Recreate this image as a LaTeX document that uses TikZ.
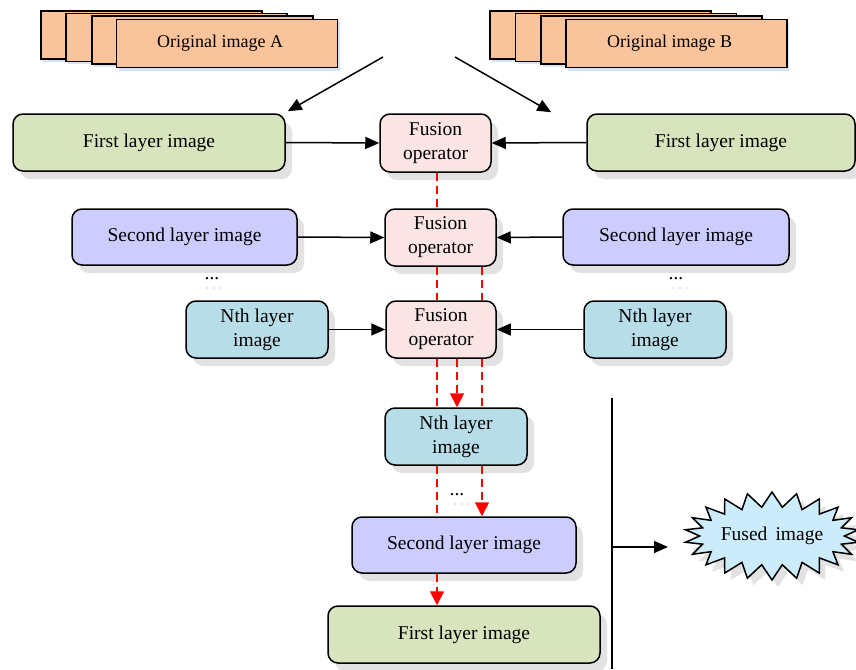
\documentclass[tikz,border=0pt]{standalone}
\usepackage{fontspec}
\setmainfont{Liberation Serif}
\usetikzlibrary{shadows,shapes.symbols,arrows.meta,calc}
\definecolor{cOrange}{HTML}{F9C49B}
\definecolor{cGreen}{HTML}{D7E4BD}
\definecolor{cLav}{HTML}{CCCCFF}
\definecolor{cTeal}{HTML}{B7DDE8}
\definecolor{cPink}{HTML}{FAE4E4}
\definecolor{cStar}{HTML}{CCEBFB}
\definecolor{cShadow}{HTML}{E2E2E2}
\definecolor{cBlueSh}{HTML}{D5E5F5}
\tikzset{
  base/.style={draw=black, line width=1.5pt, align=center, inner sep=2pt,
    font=\fontsize{19.5}{24}\selectfont},
  layerbox/.style={base, rounded corners=10pt,
    drop shadow={shadow xshift=7pt, shadow yshift=-8pt, fill=cShadow, opacity=1}},
  card/.style={draw=black, line width=1.5pt, fill=cOrange, minimum width=221pt, minimum height=48pt,
    font=\fontsize{18}{22}\selectfont,
    drop shadow={shadow xshift=2pt, shadow yshift=-3pt, fill=cBlueSh, opacity=1}},
  blackarrow/.style={line width=1.5pt, -{Triangle[length=14pt,width=12pt]}},
  redline/.style={draw=red, line width=1.6pt, dash pattern=on 8pt off 5pt},
  redarrow/.style={redline, -{Triangle[length=14pt,width=14pt]}},
  dotstext/.style={font=\fontsize{19.5}{24}\selectfont, inner sep=0pt},
  shadowdot/.style={fill=black!15},
}
\begin{document}
\begin{tikzpicture}[x=1pt,y=-1pt]
\useasboundingbox (0,0) rectangle (856,669);

% original image stacks
\node[card] (a1) at (151.5,35) {};
\node[card] (a2) at (176.5,37.5) {};
\node[card] (a3) at (202.5,40) {};
\node[card] (a4) at (227,43.5) {Original image A\hspace*{14pt}};
\node[card] (b1) at (600.5,35) {};
\node[card] (b2) at (626,37.5) {};
\node[card] (b3) at (651.5,40) {};
\node[card] (b4) at (676.5,43.5) {Original image B\hspace*{14pt}};

% row 1
\node[layerbox, fill=cGreen, minimum width=272pt, minimum height=57pt] (fA) at (149,142.5) {First layer image};
\node[layerbox, fill=cPink, minimum width=111pt, minimum height=58pt] (F1) at (435.5,143) {Fusion\\operator};
\node[layerbox, fill=cGreen, minimum width=268pt, minimum height=57pt] (fB) at (721,142.5) {First layer image};
% row 2
\node[layerbox, fill=cLav, minimum width=225pt, minimum height=56pt] (sA) at (184.5,237) {Second layer image};
\node[layerbox, fill=cPink, minimum width=111pt, minimum height=57pt] (F2) at (440.5,237.5) {Fusion\\operator};
\node[layerbox, fill=cLav, minimum width=226pt, minimum height=56pt] (sB) at (676,237) {Second layer image};
% row 3
\node[layerbox, fill=cTeal, minimum width=142pt, minimum height=57pt] (nA) at (257,329.5) {Nth layer\\image};
\node[layerbox, fill=cPink, minimum width=110pt, minimum height=57pt] (F3) at (441,329.5) {Fusion\\operator};
\node[layerbox, fill=cTeal, minimum width=142pt, minimum height=57pt] (nB) at (655,329.5) {Nth layer\\image};
% bottom column
\node[layerbox, fill=cTeal, minimum width=142pt, minimum height=57pt] (nC) at (456,436.5) {Nth layer\\image};
\node[layerbox, fill=cLav, minimum width=224pt, minimum height=56pt] (sC) at (464,545) {Second layer image};
\node[layerbox, fill=cGreen, minimum width=272pt, minimum height=57pt] (fC) at (464,634.5) {First layer image};

% dots (with faint shadow dots)
\foreach \cx/\cy in {214/288, 680/288, 462/504} {
  \foreach \k in {-6.5,0,6.5} \fill[shadowdot] (\cx+\k,\cy) circle (1.1pt);
}
\node[dotstext] (d1) at (212,279) {...};
\node[dotstext] (d2) at (676,279) {...};
\node[dotstext] (d3) at (457,495) {...};

% fused image
\node[base, starburst, starburst points=22, starburst point height=15pt, random starburst=0,
  fill=cStar, minimum width=172pt, minimum height=88pt, inner sep=0pt,
  drop shadow={shadow xshift=6pt, shadow yshift=-7pt, fill=cShadow, opacity=1}] (fused) at (772,536) {Fused\, image};

% black arrows
\coordinate (sa) at (383,57);
\coordinate (sb) at (455,57);
\draw[blackarrow] (sa) -- ($(fA.north east)+(2,-2)$);
\draw[blackarrow] (sb) -- ($(fB.north west)+(-35,-1)$);
\draw[blackarrow] (fA.east) -- (F1.west);
\draw[blackarrow] (fB.west) -- (F1.east);
\draw[blackarrow] (sA.east) -- (F2.west);
\draw[blackarrow] (sB.west) -- (F2.east);
\draw[blackarrow] (nA.east) -- (F3.west);
\draw[blackarrow] (nB.west) -- (F3.east);

% red dashed lines
\coordinate (xL) at (437,0);
\coordinate (xM) at (482,0);
\coordinate (xN) at (457,0);
\draw[redline] (F1.south -| xL) -- (F2.north -| xL);
\draw[redline] (F2.south -| xL) -- (F3.north -| xL);
\draw[redline] (F3.south -| xL) -- (nC.north -| xL);
\draw[redline] (nC.south -| xL) -- (sC.north -| xL);
\draw[redarrow] (sC.south -| xL) -- (fC.north -| xL);
\draw[redline] (F2.south -| xM) -- (F3.north -| xM);
\draw[redline] (F3.south -| xM) -- (nC.north -| xM);
\draw[redarrow] (nC.south -| xM) -- (sC.north -| xM);
\draw[redarrow] (F3.south -| xN) -- (nC.north -| xN);

% vertical bar and arrow
\coordinate (v1) at (612,398);
\coordinate (v2) at (612,669);
\coordinate (v3) at (612,547);
\coordinate (v4) at (668,547);
\draw[line width=1.5pt] (v1) -- (v2);
\draw[blackarrow] (v3) -- (v4);
\end{tikzpicture}
\end{document}
